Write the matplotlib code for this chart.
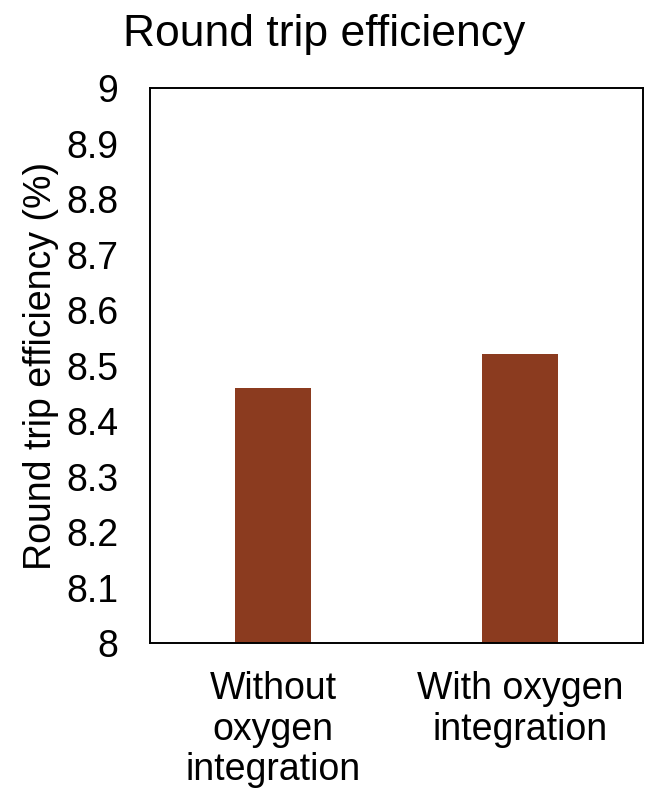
import matplotlib.pyplot as plt

plt.rcParams['font.family'] = ['Liberation Sans', 'DejaVu Sans']

categories = ['Without\noxygen\nintegration', 'With oxygen\nintegration']
efficiency = [8.46, 8.52]
yticks = [8, 8.1, 8.2, 8.3, 8.4, 8.5, 8.6, 8.7, 8.8, 8.9, 9]
ytick_labels = ['8', '8.1', '8.2', '8.3', '8.4', '8.5', '8.6', '8.7', '8.8', '8.9', '9']

fig = plt.figure(figsize=(6.48, 7.91), dpi=100)
ax = fig.add_axes([0.2315, 0.1871, 0.7608, 0.7016])

x = range(len(categories))
ax.bar(x, efficiency, width=0.31, color='#8B3B1F')

ax.set_xlim(-0.5, 1.5)
ax.set_ylim(8, 9)
ax.set_yticks(yticks)
ax.set_yticklabels(ytick_labels, fontsize=27)
ax.set_xticks(list(x))
ax.set_xticklabels(categories, fontsize=27, linespacing=1.17)
ax.tick_params(axis='y', length=0, pad=23)
ax.tick_params(axis='x', length=0, pad=20)
for s in ax.spines.values():
    s.set_linewidth(1.4)

ax.set_ylabel('Round trip efficiency (%)', fontsize=27, labelpad=5)
# title sits centred on the figure rather than the axes
ax.set_title('Round trip efficiency', fontsize=32, pad=30, x=0.353)

fig.savefig('out.png', dpi=100)
